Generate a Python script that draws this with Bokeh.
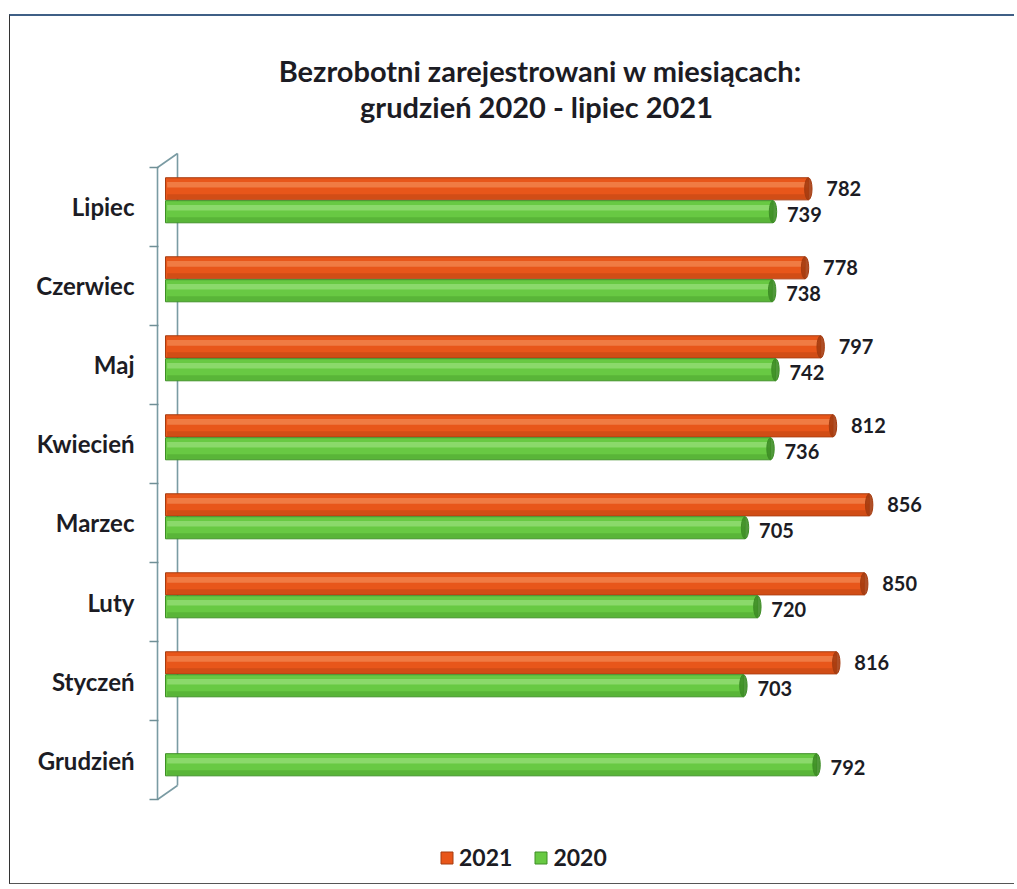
from bokeh.plotting import figure
from bokeh.models import (ColumnDataSource, Range1d, FixedTicker, Label, Legend, LegendItem)
from bokeh.transform import dodge
from bokeh.core.properties import value
from bokeh.embed import file_html
from bokeh.resources import INLINE

# ---- data ----
months = ["Grudzień", "Styczeń", "Luty", "Marzec", "Kwiecień", "Maj", "Czerwiec", "Lipiec"]
values_2021 = [None, 816, 850, 856, 812, 797, 778, 782]
values_2020 = [792, 703, 720, 705, 736, 742, 738, 739]
series_names = ["2021", "2020"]
title_lines = ["Bezrobotni zarejestrowani w miesiącach:", "grudzień 2020 - lipiec 2021"]

# ---- styles ----
FONT = "Lato"
TXT = "#1c1c24"
OR_FILL, OR_DARK, OR_LIGHT = "#E8561A", "#A63C10", "#F59A66"
GR_FILL, GR_DARK, GR_LIGHT = "#68C943", "#3E8E26", "#A8E68C"
WALL = "#7a9ba3"

idx = list(range(len(months)))


def make_source(vals):
    ys = [i for i, v in zip(idx, vals) if v is not None]
    xs = [v for v in vals if v is not None]
    return ColumnDataSource(dict(y=ys, x=xs, label=[str(v) for v in xs]))


src21 = make_source(values_2021)
src20 = make_source(values_2020)

p = figure(width=1005, height=870,
           x_range=Range1d(-12.17, 1003.6), y_range=Range1d(-1.601, 9.411),
           output_backend="svg", toolbar_location=None,
           min_border_left=145, min_border_right=25,
           min_border_top=0, min_border_bottom=0)
p.styles = {"margin-top": "14px", "margin-left": "9px",
            "border-top": "2px solid #3f5f86",
            "border-left": "1px solid #333333",
            "border-bottom": "1px solid #555555"}
p.xaxis.visible = False
p.xgrid.visible = False
p.ygrid.visible = False
p.outline_line_color = None

ax = p.yaxis[0]
ax.ticker = FixedTicker(ticks=idx, minor_ticks=[i - 0.5 for i in range(len(months) + 1)])
ax.major_label_overrides = {i: m for i, m in enumerate(months)}
ax.axis_line_color = None
ax.major_tick_out = 0
ax.major_tick_in = 0
ax.minor_tick_out = 6
ax.minor_tick_in = 3
ax.minor_tick_line_color = "#6f8f96"
ax.minor_tick_line_width = 1.5
ax.major_label_standoff = 15
ax.major_label_text_font = FONT
ax.major_label_text_font_style = "bold"
ax.major_label_text_font_size = "24px"
ax.major_label_text_color = TXT

# ---- 3D wall lines ----
front_x, back_x, depth = -9.73, 14.6, 14 / 79
lo, hi = -0.5, len(months) - 0.5
p.multi_line(xs=[[front_x, front_x], [back_x, back_x], [front_x, back_x], [front_x, back_x]],
             ys=[[lo, hi], [lo + depth, hi + depth], [hi, hi + depth], [lo, lo + depth]],
             line_color=WALL, line_width=1.6)

H = 0.28


def cylinder(src, off, fill, dark, light):
    r = p.hbar(y=dodge("y", off, range=p.y_range), left=0, right="x", height=H,
               source=src, fill_color=fill, line_color=dark, line_width=1)
    p.hbar(y=dodge("y", off + 0.05, range=p.y_range), left=2, right="x", height=0.07,
           source=src, fill_color=light, fill_alpha=0.55, line_color=None)
    p.hbar(y=dodge("y", off - 0.1, range=p.y_range), left=2, right="x", height=0.06,
           source=src, fill_color=dark, fill_alpha=0.35, line_color=None)
    p.ellipse(x="x", y=dodge("y", off, range=p.y_range), width=9, height=H,
              source=src, fill_color=dark, line_color=dark, fill_alpha=0.9)
    return r


r21 = cylinder(src21, 0.23, OR_FILL, OR_DARK, OR_LIGHT)
r20 = cylinder(src20, -0.06, GR_FILL, GR_DARK, GR_LIGHT)

for src, off, xo, yo in [(src21, 0.23, 18, 0), (src20, -0.06, 14, 3)]:
    p.text(x="x", y=dodge("y", off, range=p.y_range), text="label", source=src,
           x_offset=xo, y_offset=yo, text_baseline="middle", text_align="left",
           text_font=value(FONT), text_font_style="bold", text_font_size="20px",
           text_color=TXT)

# ---- title (screen units, relative to the frame's bottom-left) ----
for t, (tx, ty) in zip(title_lines, [(385, 816), (381, 780)]):
    p.add_layout(Label(x=tx, y=ty, x_units="screen", y_units="screen", text=t,
                       text_align="center", text_baseline="middle", text_font=FONT,
                       text_font_style="bold", text_font_size="29px", text_color=TXT))

# ---- legend ----
legend = Legend(items=[LegendItem(label=series_names[0], renderers=[r21]),
                       LegendItem(label=series_names[1], renderers=[r20])],
                location=(284, 15), orientation="horizontal",
                glyph_width=15, glyph_height=15, label_standoff=5, spacing=21,
                padding=0, margin=0, border_line_color=None, background_fill_alpha=0,
                label_text_font=FONT, label_text_font_style="bold",
                label_text_font_size="23px", label_text_color=TXT)
p.add_layout(legend)

open("out.html", "w").write(file_html(p, INLINE))
